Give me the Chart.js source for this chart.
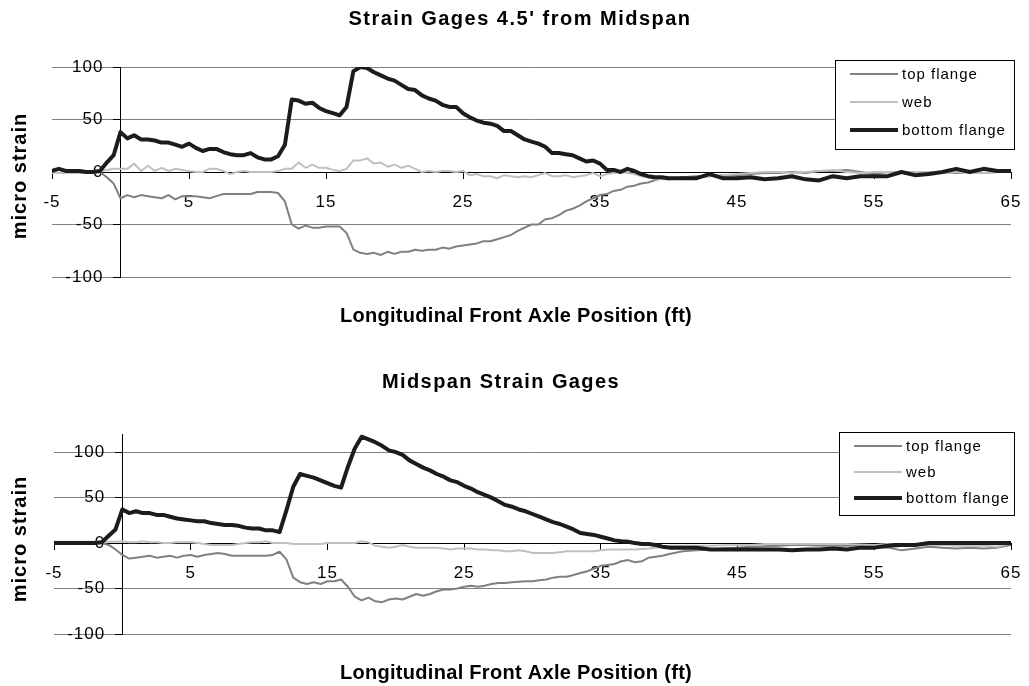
<!DOCTYPE html>
<html>
<head>
<meta charset="utf-8">
<script src="https://cdn.jsdelivr.net/npm/chart.js@4.4.1/dist/chart.umd.min.js"></script>
<style>
  html, body { margin: 0; padding: 0; background: #fff; }
  canvas { display: block; }
</style>
</head>
<body>
<canvas id="gages45" width="1029" height="343"></canvas>
<canvas id="midspan" width="1029" height="343"></canvas>
<script>
// axle position (ft) of each reading
const xPos = [
  -5, -4.5, -4, -3.5, -3, -2.5, -2, -1.5, -1, -0.5,
  0, 0.5, 1, 1.5, 2, 2.5, 3, 3.5, 4, 4.5,
  5, 5.5, 6, 6.5, 7, 7.5, 8, 8.5, 9, 9.5,
  10, 10.5, 11, 11.5, 12, 12.5, 13, 13.5, 14, 14.5,
  15, 15.5, 16, 16.5, 17, 17.5, 18, 18.5, 19, 19.5,
  20, 20.5, 21, 21.5, 22, 22.5, 23, 23.5, 24, 24.5,
  25, 25.5, 26, 26.5, 27, 27.5, 28, 28.5, 29, 29.5,
  30, 30.5, 31, 31.5, 32, 32.5, 33, 33.5, 34, 34.5,
  35, 35.5, 36, 36.5, 37, 37.5, 38, 38.5, 39, 39.5,
  40, 41, 42, 43, 44, 45, 46, 47, 48, 49,
  50, 51, 52, 53, 54, 55, 56, 57, 58, 59,
  60, 61, 62, 63, 64, 65
];

// Strain Gages 4.5' from Midspan
const topFlange1 = [
  -1, -1, -1, -1, -1, -1, 0, 0, -5, -11,
  -25, -22, -24, -22, -23, -24, -25, -22, -26, -23,
  -23, -23, -24, -25, -23, -21, -21, -21, -21, -21,
  -19, -19, -19, -20, -28, -50, -54, -51, -53, -53,
  -52, -52, -52, -58, -74, -77, -78, -77, -79, -76,
  -78, -76, -76, -74, -75, -74, -74, -72, -73, -71,
  -70, -69, -68, -66, -66, -64, -62, -60, -56, -53,
  -50, -50, -45, -44, -41, -37, -35, -32, -28, -25,
  -22, -21, -18, -17, -14, -13, -11, -10, -8, -6,
  -7, -5, -4, -4, -3, -3, -2, -1, -1, 0,
  -1, 1, 1, 2, 0, -2, 0, -1, 0, -1,
  0, -1, 0, -1, 0, 0
];
const web1 = [
  -1, -1, -1, -1, -1, -1, -1, 1, 2, 3,
  3, 3, 8, 1, 6, 1, 4, 1, 3, 2,
  1, 0, 0, 3, 3, 1, -2, 0, 1, 0,
  0, 0, 0, 1, 3, 3, 9, 4, 7, 4,
  4, 2, 1, 3, 11, 11, 13, 8, 9, 5,
  7, 4, 6, 3, 0, 1, 0, 1, 1, 0,
  1, -3, -2, -4, -4, -6, -3, -4, -5, -4,
  -5, -3, -1, -4, -4, -3, -5, -4, -3, -1,
  -4, -2, -1, 0, -1, -2, -4, -5, -7, -7,
  -7, -6, -5, -4, -3, -2, -1, 0, 0, -1,
  0, 1, 2, 0, -1, 0, 0, -1, 0, 0,
  -1, 0, 0, -1, 0, 1
];
const bottomFlange1 = [
  1, 3, 1, 1, 1, 0, 0, 1, 9, 16,
  38, 32, 35, 31, 31, 30, 28, 28, 26, 24,
  27, 23, 20, 22, 22, 19, 17, 16, 16, 18,
  14, 12, 12, 15, 26, 69, 68, 65, 66, 61,
  58, 56, 54, 62, 96, 100, 99, 95, 92, 89,
  87, 83, 79, 78, 73, 70, 68, 64, 62, 62,
  56, 52, 49, 47, 46, 44, 39, 39, 35, 31,
  29, 27, 24, 18, 18, 17, 16, 13, 10, 11,
  8, 2, 2, 0, 3, 1, -2, -4, -5, -5,
  -6, -6, -6, -2, -6, -6, -5, -7, -6, -4,
  -7, -8, -4, -6, -4, -4, -4, 0, -3, -2,
  0, 3, 0, 3, 1, 1
];

// Midspan Strain Gages
const topFlange2 = [
  0, 0, 0, 0, 0, 0, 0, 0, -2, -7,
  -13, -17, -16, -15, -14, -16, -15, -14, -16, -14,
  -13, -15, -13, -12, -11, -12, -14, -14, -14, -14,
  -14, -14, -13, -9.5, -18, -38, -43, -45, -43, -45,
  -42, -42, -40, -48, -59, -63, -60, -64, -65, -62,
  -61, -62, -59, -56, -58, -56, -53, -51, -51, -50,
  -48, -47, -48, -47, -45, -44, -44, -43, -42.5, -42,
  -42, -41, -40, -38, -37, -37, -35, -33, -31, -28,
  -25, -24, -23, -20, -18.7, -21, -20, -16, -15, -14,
  -12, -9, -8, -7, -6, -5, -4, -3.5, -3, -2,
  -2, -3, -3, -3, -3, -4, -5, -8, -6, -4,
  -5, -6, -5, -6, -5, -2
];
const web2 = [
  1.5, 1.5, 1.5, 1.5, 1.5, 1.5, 1.5, 1.5, 1.5, 1.5,
  2, 1, 1, 2, 1, 1, 0, 0, 1, 1,
  1, 0, -1, -2, -2, -2, -2, -1, 0, 1,
  1, 2, 0, 0, 0, -1, -1, -1, -1, -1,
  0, 0, 0, 0, 0, 2, 1, -3, -4, -5,
  -4, -2, -4, -5, -5, -5, -5, -6, -7, -6,
  -6, -6, -7, -7, -8, -8, -9, -9, -8, -9,
  -11, -11, -11, -11, -10, -9, -9, -9, -9, -9,
  -8, -7, -7, -7, -7, -7, -6.5, -6, -5, -4,
  -3, -3, -3, -3, -2.5, -2, -2, -1, -1, -1,
  -1, -1, -1, -1, -1.5, -2, -1, -3, -2, -2,
  -2, -3, -3, -3, -4, 0
];
const bottomFlange2 = [
  0, 0, 0, 0, 0, 0, 0, 1, 8, 15,
  37, 33, 35, 33, 33, 31, 31, 29, 27, 26,
  25, 24, 24, 22, 21, 20, 20, 19, 17, 16,
  16, 14, 14, 12, 36, 62, 76, 74, 72, 69,
  66, 63, 61, 84, 104, 117, 114, 111, 107, 102,
  100, 97, 91, 87, 83, 80, 76, 73, 69, 67,
  63, 60, 56, 53, 50, 46, 42, 40, 37, 35,
  32, 29, 26, 23, 21, 18, 15, 11, 10, 9,
  7, 5, 3, 2, 1.5, 0, -1, -1, -2, -4,
  -5, -5, -5, -7, -7, -7, -7, -7, -7, -8,
  -7, -7, -6, -7, -5, -5, -3, -2, -2, 0,
  0, 0, 0, 0, 0, 0
];

const xTicks = [-5, 5, 15, 25, 35, 45, 55, 65];
const yTicks = [-100, -50, 0, 50, 100];

const FONT = '"Liberation Sans", Arial, sans-serif';
Chart.defaults.font.family = FONT;

function series(ys) {
  return xPos.map((x, i) => ({ x: x, y: ys[i] }));
}

function noPad(scale) {
  scale.paddingLeft = 0;
  scale.paddingRight = 0;
  scale.paddingTop = 0;
  scale.paddingBottom = 0;
}

// titles + boxed legend, drawn the way the old spreadsheet chart had them
const decor = {
  id: "decor",
  beforeDraw(chart) {
    chart.ctx.letterSpacing = "1px";
  },
  afterDraw(chart, args, o) {
    const ctx = chart.ctx;
    ctx.save();
    ctx.fillStyle = "#000";
    ctx.font = "bold 20px " + FONT;
    ctx.textAlign = "center";
    ctx.textBaseline = "alphabetic";
    ctx.letterSpacing = o.titleSpacing;
    ctx.fillText(o.title, o.titleX, o.titleY);
    ctx.letterSpacing = "0.3px";
    ctx.fillText("Longitudinal Front Axle Position (ft)", o.xTitleX, o.xTitleY);
    ctx.translate(o.yTitleX, o.yTitleY);
    ctx.rotate(-Math.PI / 2);
    ctx.letterSpacing = "1px";
    ctx.fillText("micro strain", 0, 0);
    ctx.restore();

    const b = o.legend;
    ctx.save();
    ctx.fillStyle = "#fff";
    ctx.fillRect(b.x, b.y, b.w, b.h);
    ctx.strokeStyle = "#000";
    ctx.lineWidth = 1;
    ctx.strokeRect(b.x + 0.5, b.y + 0.5, b.w, b.h);
    ctx.font = "15px " + FONT;
    ctx.textAlign = "left";
    ctx.textBaseline = "middle";
    ctx.letterSpacing = "1px";
    chart.data.datasets.forEach((ds, i) => {
      const y = b.y + b.first + i * b.step;
      ctx.strokeStyle = ds.borderColor;
      ctx.lineWidth = ds.borderWidth;
      ctx.beginPath();
      ctx.moveTo(b.x + 15, y);
      ctx.lineTo(b.x + 63, y);
      ctx.stroke();
      ctx.fillStyle = "#000";
      ctx.fillText(ds.label, b.x + 67, y + 1);
    });
    ctx.restore();
  }
};

function makeChart(id, tf, w, bf, yMax, pad, decorOpts) {
  const ctx = document.getElementById(id).getContext("2d");
  return new Chart(ctx, {
    type: "line",
    data: {
      datasets: [
        { label: "top flange", data: series(tf), borderColor: "#808080", borderWidth: 2, order: 3 },
        { label: "web", data: series(w), borderColor: "#c0c0c0", borderWidth: 2, order: 2 },
        { label: "bottom flange", data: series(bf), borderColor: "#1c1c1c", borderWidth: 4, order: 1 }
      ]
    },
    options: {
      responsive: false,
      animation: false,
      devicePixelRatio: 1,
      layout: { padding: pad },
      elements: {
        point: { radius: 0 },
        line: { tension: 0, borderJoinStyle: "round", borderCapStyle: "round" }
      },
      plugins: {
        legend: { display: false },
        tooltip: { enabled: false },
        decor: decorOpts
      },
      scales: {
        x: {
          type: "linear",
          min: -5,
          max: 65,
          position: { y: 0 },
          afterBuildTicks: (s) => { s.ticks = xTicks.map((v) => ({ value: v })); },
          afterFit: noPad,
          grid: { drawOnChartArea: false, drawTicks: true, tickLength: 6, tickColor: "#000" },
          border: { color: "#000", width: 1 },
          ticks: { padding: 14, color: "#000", autoSkip: false, maxRotation: 0, font: { size: 17 } }
        },
        y: {
          type: "linear",
          min: -100,
          max: yMax,
          position: { x: 0 },
          afterBuildTicks: (s) => { s.ticks = yTicks.map((v) => ({ value: v })); },
          afterFit: noPad,
          grid: {
            color: (c) => (c.tick && c.tick.value === 0 ? "#000" : "#808080"),
            tickColor: "#000",
            tickLength: 7
          },
          border: { color: "#000", width: 1 },
          // labels of a crossing axis sit right on it, so keep a gap after the number
          ticks: { color: "#000", font: { size: 17 }, callback: (v) => v + "   " }
        }
      }
    },
    plugins: [decor]
  });
}

makeChart("gages45", topFlange1, web1, bottomFlange1, 100,
  { left: 52, right: 18, top: 67, bottom: 66 },
  {
    title: "Strain Gages 4.5' from Midspan", titleSpacing: "1.5px", titleX: 520, titleY: 25,
    xTitleX: 516, xTitleY: 322, yTitleX: 26, yTitleY: 176,
    legend: { x: 835, y: 60, w: 179, h: 89, first: 14, step: 28 }
  });

makeChart("midspan", topFlange2, web2, bottomFlange2, 120,
  { left: 54, right: 18, top: 91, bottom: 52 },
  {
    title: "Midspan Strain Gages", titleSpacing: "1.4px", titleX: 501, titleY: 45,
    xTitleX: 516, xTitleY: 336, yTitleX: 26, yTitleY: 196,
    legend: { x: 839, y: 89, w: 175, h: 83, first: 14, step: 26 }
  });
</script>
</body>
</html>
